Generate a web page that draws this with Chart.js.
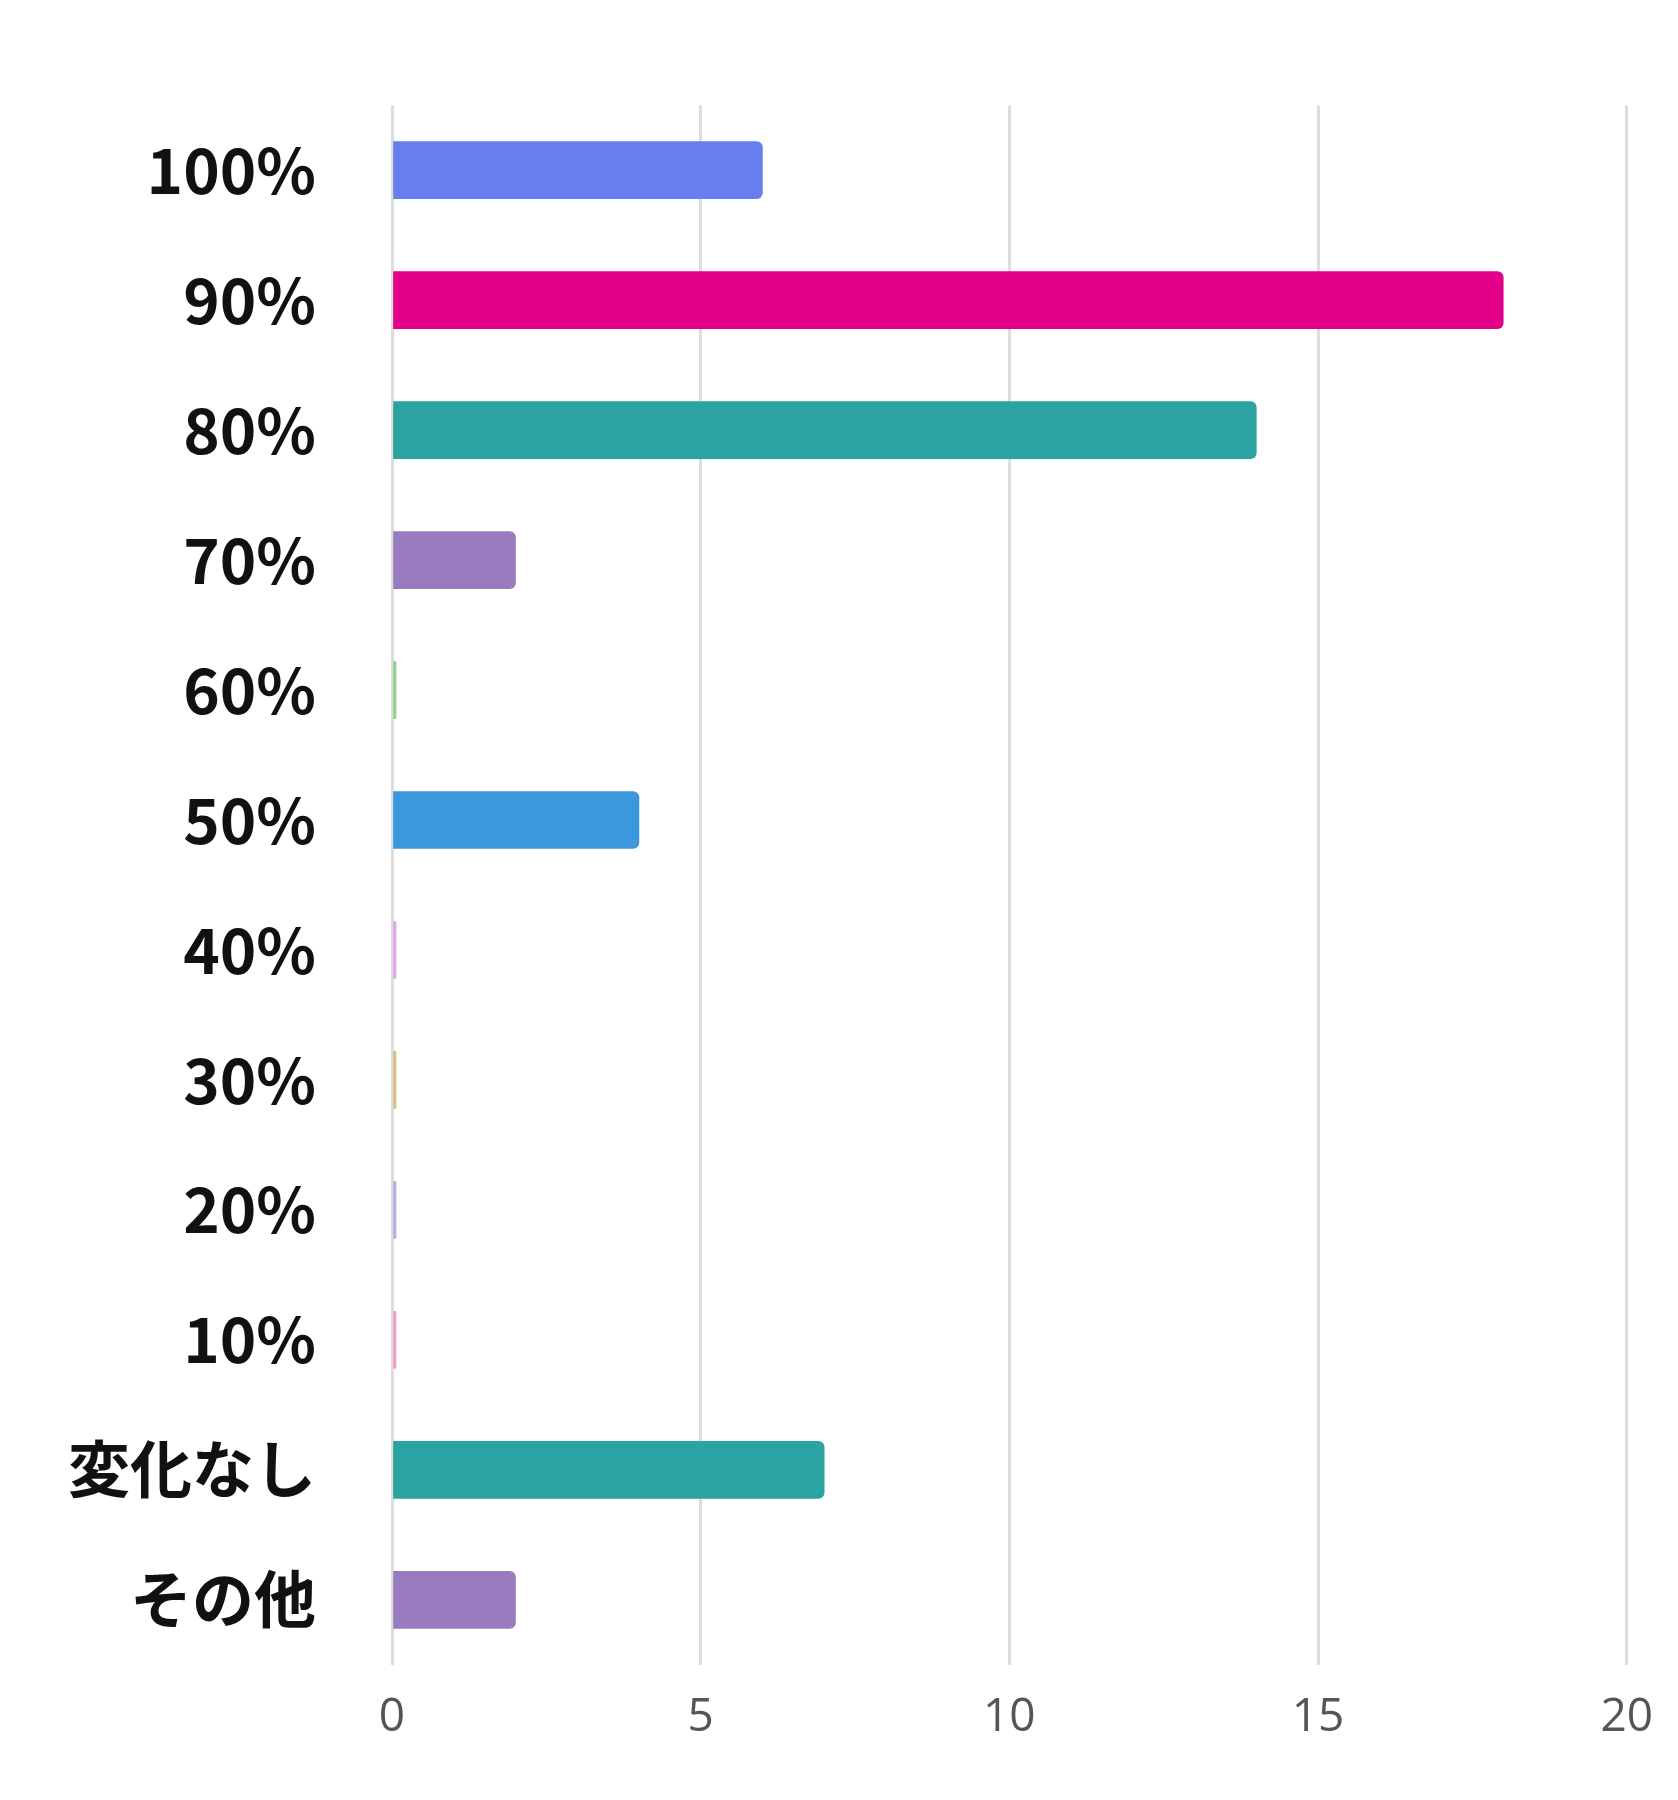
<!DOCTYPE html><html><head><meta charset="utf-8">
<script src="https://cdn.jsdelivr.net/npm/chart.js@4"></script>
<style>html,body{margin:0;background:#fff}#w{width:1678px;height:1800px}</style></head><body>
<div id="w"><canvas id="c"></canvas></div>
<script>
const categories=["100%","90%","80%","70%","60%","50%","40%","30%","20%","10%","変化なし","その他"];
const values=[6,18,14,2,0,4,0,0,0,0,7,2];
const xTicks=[0,5,10,15,20];
const colors=["#667eee","#e2008a","#2ca3a3","#9a7bc0","#8fcf8f","#3b98dc","#d8a8e8","#d8c080","#b0b0e8","#f0a0c8","#2ca3a3","#9a7bc0"];
new Chart(document.getElementById('c'),{type:'bar',
data:{labels:categories,datasets:[{data:values,backgroundColor:colors,barThickness:57,borderRadius:6,borderSkipped:'start',minBarLength:4}]},
options:{indexAxis:'y',responsive:true,maintainAspectRatio:false,animation:false,
layout:{padding:{top:-75,right:40,left:0,bottom:30}},
plugins:{legend:{display:false},tooltip:{enabled:false}},
scales:{x:{min:0,max:20,afterBuildTicks:a=>{a.ticks=xTicks.map(v=>({value:v}));},
grid:{color:'#dddddd',lineWidth:3,drawTicks:false},border:{display:false},
ticks:{color:'#555',padding:25,font:{family:'Open Sans',size:46}}},
y:{grid:{display:false},border:{display:false},
ticks:{color:'#111',padding:68,font:{family:'Noto Sans CJK JP',size:62,weight:'bold'}}}}}});
</script></body></html>
